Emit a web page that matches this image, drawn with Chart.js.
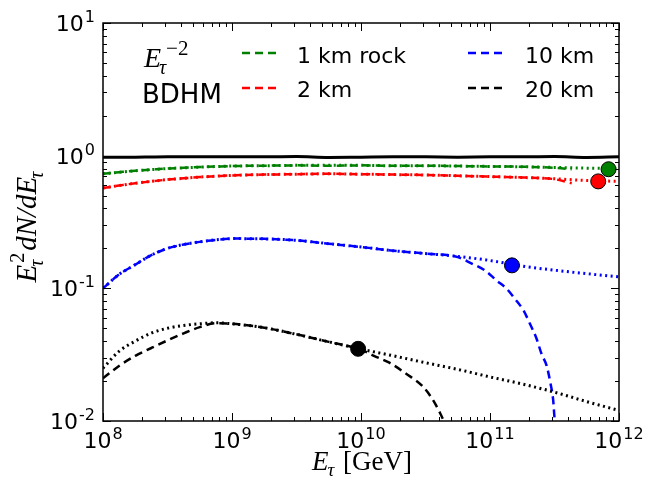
<!DOCTYPE html>
<html><head><meta charset="utf-8">
<script src="https://cdn.jsdelivr.net/npm/chart.js@4"></script>
<style>html,body{margin:0;padding:0;background:#fff}#wrap{width:646px;height:485px}</style>
</head><body><div id="wrap"><canvas id="c" width="646" height="485"></canvas></div>
<script>
// ---- data ----
const energy = [1e8,1.33e8,1.78e8,2.37e8,3.16e8,4.22e8,5.62e8,7.5e8,1e9,1.78e9,3.16e9,5.62e9,1e10,1.78e10,3.16e10,5.62e10,1e11,1.78e11,3.16e11,5.62e11,1e12];
const referenceFlux = [0.975,0.975,0.975,0.978,0.98,0.98,0.98,0.98,0.98,0.98,0.985,0.97,0.975,0.98,0.98,0.975,0.98,0.98,0.985,0.97,0.98];

const rock1kmE2 = [0.73,0.75,0.77,0.785,0.80,0.81,0.82,0.828,0.835,0.84,0.845,0.845,0.845,0.84,0.84,0.835,0.83,0.825,0.815,0.805,0.80];
const rock1kmBdhmE = [1e8,1.33e8,1.78e8,2.37e8,3.16e8,4.22e8,5.62e8,7.5e8,1e9,1.78e9,3.16e9,5.62e9,1e10,1.78e10,3.16e10,5.62e10,1e11,1.78e11,3.16e11,4.3e11];
const rock1kmBdhm = [0.73,0.75,0.77,0.785,0.80,0.81,0.82,0.828,0.835,0.84,0.845,0.84,0.845,0.84,0.84,0.835,0.83,0.825,0.81,0.79];

const water2kmE2 = [0.57,0.595,0.62,0.64,0.66,0.675,0.69,0.70,0.71,0.72,0.725,0.73,0.725,0.72,0.715,0.705,0.695,0.685,0.67,0.65,0.64];
const water2kmBdhmE = [1e8,1.33e8,1.78e8,2.37e8,3.16e8,4.22e8,5.62e8,7.5e8,1e9,1.78e9,3.16e9,5.62e9,1e10,1.78e10,3.16e10,5.62e10,1e11,1.78e11,3.16e11,4.3e11];
const water2kmBdhm = [0.57,0.595,0.62,0.64,0.66,0.675,0.69,0.70,0.71,0.72,0.725,0.73,0.725,0.72,0.715,0.705,0.695,0.685,0.665,0.62];

const water10kmE2 = [0.100,0.127,0.151,0.178,0.200,0.214,0.224,0.232,0.237,0.236,0.23,0.217,0.205,0.192,0.183,0.174,0.162,0.147,0.137,0.129,0.122];
const water10kmBdhmE = [1e8,1.33e8,1.78e8,2.37e8,3.16e8,4.22e8,5.62e8,7.5e8,1e9,1.78e9,3.16e9,5.62e9,1e10,1.78e10,3.16e10,5.62e10,7.1e10,9.1e10,1.12e11,1.35e11,1.55e11,1.82e11,2.04e11,2.29e11,2.51e11,2.75e11,2.95e11,3.09e11,3.16e11,3.24e11];
const water10kmBdhm = [0.100,0.127,0.151,0.178,0.200,0.214,0.224,0.232,0.237,0.236,0.23,0.217,0.205,0.192,0.183,0.172,0.155,0.137,0.115,0.099,0.084,0.068,0.054,0.042,0.032,0.026,0.019,0.0143,0.0107,0.009];

const water20kmE2 = [0.025,0.0335,0.040,0.046,0.050,0.0525,0.054,0.055,0.054,0.0505,0.045,0.0395,0.0348,0.031,0.0275,0.0245,0.0215,0.019,0.0165,0.014,0.012];
const water20kmBdhmE = [1e8,1.33e8,1.78e8,2.37e8,3.16e8,4.22e8,5.62e8,7.5e8,1e9,1.78e9,3.16e9,5.62e9,1e10,1.26e10,1.66e10,2.24e10,3.0e10,3.55e10,4.1e10,4.6e10];
const water20kmBdhm = [0.021,0.026,0.031,0.0355,0.0405,0.0458,0.051,0.0545,0.054,0.0505,0.045,0.0395,0.0345,0.031,0.0275,0.0227,0.0183,0.0148,0.0115,0.009];

const markerE = [8.3e11,6.9e11,1.48e11,9.5e9];
const markerValue = [0.79,0.64,0.149,0.035];
const markerColors = ['#008000','#ff0000','#0000ff','#000000'];

const legendLabels = ['1 km rock','2 km','10 km','20 km'];
const legendColors = ['#008000','#ff0000','#0000ff','#000000'];
const xTickExp = ['8','9','10','11','12'];
const yTickExp = ['-2','-1','0','1'];

// ---- styles ----
const DOT = [2,3.5], DASH = [8,5];
const MATH = '"Liberation Serif","DejaVu Serif",serif';
const SANS = '"DejaVu Sans",sans-serif';

function pts(xs, ys){ return xs.map((x,i)=>({x:x, y:ys[i]})); }
function line(xs, ys, color, dash, width, order){
  return {data:pts(xs,ys), borderColor:color, borderWidth:width, borderDash:dash, pointRadius:0,
    fill:false, cubicInterpolationMode:'monotone', order:order, borderCapStyle:'butt'};
}

const datasets = [
  {data:pts(markerE, markerValue), showLine:false, pointRadius:7.5, pointBackgroundColor:markerColors,
   pointBorderColor:'#000', pointBorderWidth:1, order:0},
  line(energy, referenceFlux, '#000', [], 3, 5),
  line(energy, rock1kmE2, '#008000', DOT, 3, 4),
  line(rock1kmBdhmE, rock1kmBdhm, '#008000', DASH, 2.5, 4),
  line(energy, water2kmE2, '#ff0000', DOT, 3, 3),
  line(water2kmBdhmE, water2kmBdhm, '#ff0000', DASH, 2.5, 3),
  line(energy, water10kmE2, '#0000ff', DOT, 3, 2),
  line(water10kmBdhmE, water10kmBdhm, '#0000ff', DASH, 2.5, 2),
  line(energy, water20kmE2, '#000', DOT, 3, 1),
  line(water20kmBdhmE, water20kmBdhm, '#000', DASH, 2.5, 1),
];

// draw sequence of text runs; item: {t,f,dx,dy,keep}
function runs(ctx, items, x, y, draw){
  let pen = x, pending = -Infinity;
  for (const it of items){
    ctx.font = it.f;
    const w = ctx.measureText(it.t).width;
    const px = pen + (it.dx||0);
    if (draw) ctx.fillText(it.t, px, y + (it.dy||0));
    if (it.keep){ pending = Math.max(pending, px + w); }
    else { pen = Math.max(px + w, pending); pending = -Infinity; }
  }
  return Math.max(pen, pending) - x;
}

function powLabel(exp){
  return [{t:'10', f:'22px '+SANS}, {t:exp, f:'16px '+SANS, dx:1, dy:-9}];
}

const overlay = {
  id:'overlay',
  afterDraw(chart){
    const ctx = chart.ctx, a = chart.chartArea, xs = chart.scales.x, ys = chart.scales.y;
    ctx.save();
    ctx.strokeStyle = '#000'; ctx.fillStyle = '#000';
    ctx.lineWidth = 1;
    ctx.beginPath();
    for (let d=8; d<=12; d++){
      for (let k=1; k<=9; k++){
        if (d===12 && k>1) break;
        const v = k*Math.pow(10,d), px = Math.round(xs.getPixelForValue(v))+0.5;
        const L = k===1 ? 8 : 4;
        ctx.moveTo(px, a.bottom); ctx.lineTo(px, a.bottom-L);
        ctx.moveTo(px, a.top); ctx.lineTo(px, a.top+L);
      }
    }
    for (let d=-2; d<=1; d++){
      for (let k=1; k<=9; k++){
        if (d===1 && k>1) break;
        const v = k*Math.pow(10,d), py = Math.round(ys.getPixelForValue(v))+0.5;
        const L = k===1 ? 8 : 4;
        ctx.moveTo(a.left, py); ctx.lineTo(a.left+L, py);
        ctx.moveTo(a.right, py); ctx.lineTo(a.right-L, py);
      }
    }
    ctx.stroke();
    ctx.lineWidth = 1.5;
    ctx.strokeRect(a.left, a.top, a.right-a.left, a.bottom-a.top);

    ctx.textBaseline = 'alphabetic';
    xTickExp.forEach(e=>{
      const px = xs.getPixelForValue(Math.pow(10, +e));
      const w = runs(ctx, powLabel(e), 0, 0, false);
      runs(ctx, powLabel(e), px - w/2, 448, true);
    });
    yTickExp.forEach(e=>{
      const py = ys.getPixelForValue(Math.pow(10, +e));
      const w = runs(ctx, powLabel(e), 0, 0, false);
      runs(ctx, powLabel(e), 95 - w, py + 8, true);
    });

    // x title
    const xt = [{t:'E', f:'italic 27px '+MATH}, {t:'τ', f:'italic 19px '+MATH, dx:-1, dy:6},
                {t:' [GeV]', f:'27px '+MATH, dx:2}];
    const xw = runs(ctx, xt, 0, 0, false);
    runs(ctx, xt, 362 - xw/2, 470, true);

    // y title
    const yt = [{t:'E', f:'italic 29px '+MATH}, {t:'τ', f:'italic 20px '+MATH, dx:-2, dy:7, keep:true},
                {t:'2', f:'20px '+MATH, dx:2, dy:-12},
                {t:'dN/dE', f:'italic 29px '+MATH, dx:2}, {t:'τ', f:'italic 20px '+MATH, dx:-2, dy:7}];
    const yw = runs(ctx, yt, 0, 0, false);
    ctx.save(); ctx.translate(36, 227); ctx.rotate(-Math.PI/2);
    runs(ctx, yt, -yw/2, 0, true);
    ctx.restore();

    // legend
    runs(ctx, [{t:'E', f:'italic 28px '+MATH}, {t:'τ', f:'italic 20px '+MATH, dx:-2, dy:7, keep:true},
               {t:'−2', f:'21px '+MATH, dx:5, dy:-12}], 144, 67, true);
    ctx.font = '26px '+SANS; ctx.fillText('BDHM', 142, 103);
    const lx = [242, 242, 468, 468], ly = [53, 88, 53, 88], tx = [297, 297, 525, 525], ty = [63, 97, 63, 97];
    legendLabels.forEach((lab,i)=>{
      ctx.save(); ctx.strokeStyle = legendColors[i]; ctx.lineWidth = 2.5; ctx.setLineDash(DASH);
      ctx.beginPath(); ctx.moveTo(lx[i], ly[i]); ctx.lineTo(lx[i]+34, ly[i]); ctx.stroke(); ctx.restore();
      ctx.font = '22px '+SANS; ctx.fillStyle = '#000'; ctx.fillText(lab, tx[i], ty[i]);
    });
    ctx.restore();
  }
};

new Chart(document.getElementById('c'), {
  type:'line',
  data:{datasets:datasets},
  options:{
    responsive:false, animation:false, devicePixelRatio:1,
    layout:{padding:{left:103, right:27, top:23, bottom:64}},
    scales:{
      x:{type:'logarithmic', min:1e8, max:1e12, display:false},
      y:{type:'logarithmic', min:0.01, max:10, display:false}
    },
    plugins:{legend:{display:false}, tooltip:{enabled:false}},
    elements:{line:{tension:0}}
  },
  plugins:[overlay]
});
</script></body></html>
